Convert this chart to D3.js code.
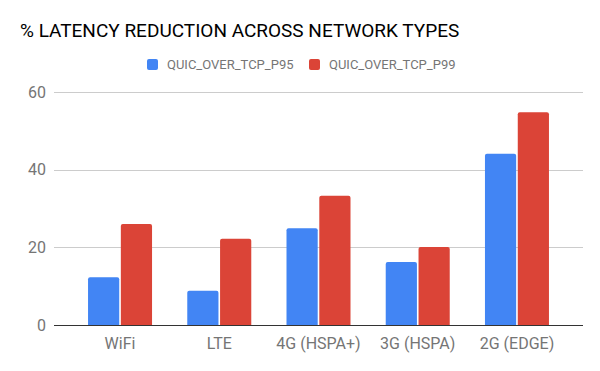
<!DOCTYPE html>
<html>
<head>
<meta charset="utf-8">
<script src="https://cdn.jsdelivr.net/npm/d3@7"></script>
<style>
  body { margin: 0; background: #fff; }
  text { font-family: Roboto, "Noto Sans", sans-serif; }
</style>
</head>
<body>
<div id="chart"></div>
<script>
const categories = ["WiFi", "LTE", "4G (HSPA+)", "3G (HSPA)", "2G (EDGE)"];
const seriesNames = ["QUIC_OVER_TCP_P95", "QUIC_OVER_TCP_P99"];
const p95 = [12.3, 8.8, 24.9, 16.2, 44.1];
const p99 = [26.0, 22.2, 33.3, 20.1, 54.8];
const yTicks = [0, 20, 40, 60];
const colors = ["#4285F4", "#DB4437"];

const width = 600, height = 371;
const margin = { top: 92, right: 17, bottom: 46, left: 54 };

const svg = d3.select("#chart")
  .append("svg")
  .attr("width", width)
  .attr("height", height);

const x0 = d3.scaleBand()
  .domain(categories)
  .range([margin.left, width - margin.right])
  .paddingInner(0.355)
  .paddingOuter(0.343);

const x1 = d3.scaleBand()
  .domain(seriesNames)
  .range([0, x0.bandwidth()]);

const y = d3.scaleLinear()
  .domain([0, 60])
  .range([height - margin.bottom, margin.top]);

// gridlines
svg.append("g")
  .selectAll("line")
  .data(yTicks.filter(d => d !== 0))
  .join("line")
  .attr("x1", margin.left)
  .attr("x2", width - margin.right)
  .attr("y1", d => Math.round(y(d)) + 0.5)
  .attr("y2", d => Math.round(y(d)) + 0.5)
  .attr("stroke", "#cccccc")
  .attr("stroke-width", 1);

// y labels
svg.append("g")
  .selectAll("text")
  .data(yTicks)
  .join("text")
  .attr("x", margin.left - 8)
  .attr("y", d => y(d) + 5.5)
  .attr("text-anchor", "end")
  .attr("fill", "#757575")
  .attr("font-size", "16px")
  .text(d => d);

// bars
const rows = categories.map((c, i) => ({ cat: c, values: [p95[i], p99[i]] }));

const groups = svg.append("g")
  .selectAll("g")
  .data(rows)
  .join("g")
  .attr("transform", d => `translate(${x0(d.cat)},0)`);

groups.selectAll("path")
  .data(d => d.values.map((v, i) => ({ key: seriesNames[i], value: v, i })))
  .join("path")
  .attr("fill", d => colors[d.i])
  .attr("d", d => {
    const bx = x1(d.key) + (d.i === 1 ? 0.8 : 0);
    const bw = x1.bandwidth() - 0.8;
    const top = y(d.value), base = y(0), r = 2;
    return `M${bx},${base}V${top + r}Q${bx},${top} ${bx + r},${top}H${bx + bw - r}Q${bx + bw},${top} ${bx + bw},${top + r}V${base}Z`;
  });

// baseline
svg.append("line")
  .attr("x1", margin.left)
  .attr("x2", width - margin.right)
  .attr("y1", y(0) + 0.5)
  .attr("y2", y(0) + 0.5)
  .attr("stroke", "#333333")
  .attr("stroke-width", 1);

// x labels
svg.append("g")
  .selectAll("text")
  .data(categories)
  .join("text")
  .attr("x", d => x0(d) + x0.bandwidth() / 2)
  .attr("y", height - margin.bottom + 24)
  .attr("text-anchor", "middle")
  .attr("fill", "#757575")
  .attr("font-size", "16px")
  .text(d => d);

// title
svg.append("text")
  .attr("x", 20)
  .attr("y", 37)
  .attr("fill", "#000")
  .attr("font-size", "19px")
  .text("% LATENCY REDUCTION ACROSS NETWORK TYPES");

// legend
const legendX = [147, 309];
const legend = svg.append("g")
  .selectAll("g")
  .data(seriesNames)
  .join("g")
  .attr("transform", (d, i) => `translate(${legendX[i]},59)`);

legend.append("rect")
  .attr("width", 11)
  .attr("height", 11)
  .attr("rx", 2)
  .attr("fill", (d, i) => colors[i]);

legend.append("text")
  .attr("x", 20)
  .attr("y", 10)
  .attr("fill", "#757575")
  .attr("font-size", "13px")
  .text(d => d);
</script>
</body>
</html>
